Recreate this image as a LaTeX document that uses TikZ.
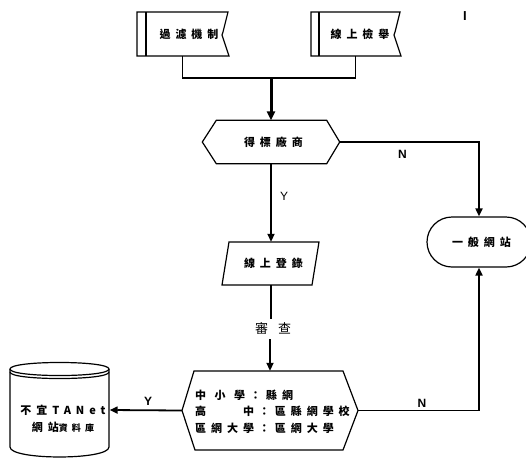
\documentclass[tikz,border=0pt]{standalone}
\usepackage{fontspec}
\setmainfont{Liberation Sans}
\newfontfamily\cjk{Noto Sans CJK TC}[LetterSpace=45]
\newfontfamily\cjkr{Noto Sans CJK TC}
\usetikzlibrary{arrows.meta}
\begin{document}
\begin{tikzpicture}[x=1pt,y=-1pt,
  shp/.style={line width=1.2pt, line join=miter},
  conn/.style={line width=1.8pt},
  arr/.style={conn,-{Triangle[length=8pt,width=7pt]}},
  bigarr/.style={line width=3pt,-{Triangle[length=9pt,width=8pt]}},
  ctext/.style={font=\cjk\bfseries\fontsize{11}{16.5}\selectfont, inner sep=0pt},
  ck/.style={execute at end node={\kern-4.95pt}},
  yn/.style={font=\bfseries\fontsize{12}{12}\selectfont, inner sep=0pt},
  holder/.style={draw=none, inner sep=0pt},
]
\useasboundingbox (0,0) rectangle (526,458);

% marker
\node[yn, font=\bfseries\fontsize{13}{13}\selectfont] (mk) at (465,15.75) {I};

% top boxes
\node[ctext, ck, minimum width=91pt, minimum height=44pt] (b1) at (182.5,34) {\hspace{8pt}過濾機制};
\draw[shp] (228,12) -- (137,12) -- (137,56) -- (229,56) .. controls (225,46) .. (222,35) -- (223,32) .. controls (225,22) .. (228,12) -- cycle;
\draw[shp] (146,12) -- (146,56);

\node[ctext, ck, minimum width=89pt, minimum height=44pt] (b2) at (355.5,34) {\hspace{4pt}線上檢舉};
\draw[shp] (400,12) -- (311,12) -- (311,56) -- (401,56) .. controls (397,46) .. (394,35) -- (395,32) .. controls (397,22) .. (400,12) -- cycle;
\draw[shp] (319,12) -- (319,56);

% merge
\coordinate (mrg) at (271,78);
\draw[conn] (b1.south) |- (mrg) -| (b2.south);

% hexagon 1
\node[ctext, ck, minimum width=137pt, minimum height=43pt] (h1) at (271,142) {得標廠商};
\draw[shp] (h1.west) -- ([xshift=14pt]h1.north west) -- ([xshift=-13pt]h1.north east) -- (h1.east)
  -- ([xshift=-13pt]h1.south east) -- ([xshift=14pt]h1.south west) -- cycle;
\draw[bigarr] (mrg) -- (mrg |- h1.north);

% parallelogram
\node[ctext, ck, minimum width=97pt, minimum height=43pt] (pa) at (271,263.5) {線上登錄};
\draw[shp] (229,242) -- (319,242) -- (312,285) -- (222,285) -- cycle;

% general website
\node[ctext, ck, draw, shp, rounded corners=25pt, minimum width=104pt, minimum height=50pt] (gen) at (479,242) {一般網站};

% review label
\node[font=\cjkr\fontsize{13}{13}\selectfont, inner sep=0pt, minimum height=20pt] (chk) at (273,329) {審\hspace{10pt}查};

% hexagon 2
\node[holder, minimum width=176pt, minimum height=79pt] (h2) at (270,410.5) {};
\draw[shp] (182,410.5) -- (194,371) -- (343,371) -- (358,410.5) -- (343,450) -- (195,450) -- cycle;
\node[ctext, align=left, anchor=west] (h2t) at (195,411.5) {中\hspace{8.5pt}小\hspace{8.5pt}學：縣網\\高　　中：區縣網學校\\區網大學：區網大學};

% database cylinder
\node[holder, minimum width=100pt, minimum height=95pt] (db) at (59.5,410) {};
\draw[shp] (10,369) .. controls (10,360.3) and (109,360.3) .. (109,369)
  .. controls (109,377.7) and (10,377.7) .. (10,369) -- cycle;
\draw[shp] (10,372) .. controls (10,380.7) and (109,380.7) .. (109,372);
\draw[shp] (10,369) -- (10,447) .. controls (10,460.3) and (109,460.3) .. (109,447) -- (109,369);
\node[ctext, align=center] (dbt) at (63,419) {不宜TANet\\網站{\fontsize{9}{16.5}\selectfont 資料庫}};

% connectors
\draw[arr] (h1.east) -| (gen.north);
\draw[arr] (h1.south) -- (pa.north);
\draw[conn] (pa.south) -- (pa.south |- chk.north);
\draw[arr] (chk.south -| h2.north) -- (h2.north);
\draw[arr] (h2.west) -- (db.east);
\draw[arr] (h2.east) -| (gen.south);

% labels
\node[yn] (n1) at (402.5,154) {N};
\node[font=\fontsize{12}{12}\selectfont, inner sep=0pt] (y1) at (284,196.5) {Y};
\node[yn] (y2) at (148,401.5) {Y};
\node[yn] (n2) at (422,403) {N};
\end{tikzpicture}
\end{document}
